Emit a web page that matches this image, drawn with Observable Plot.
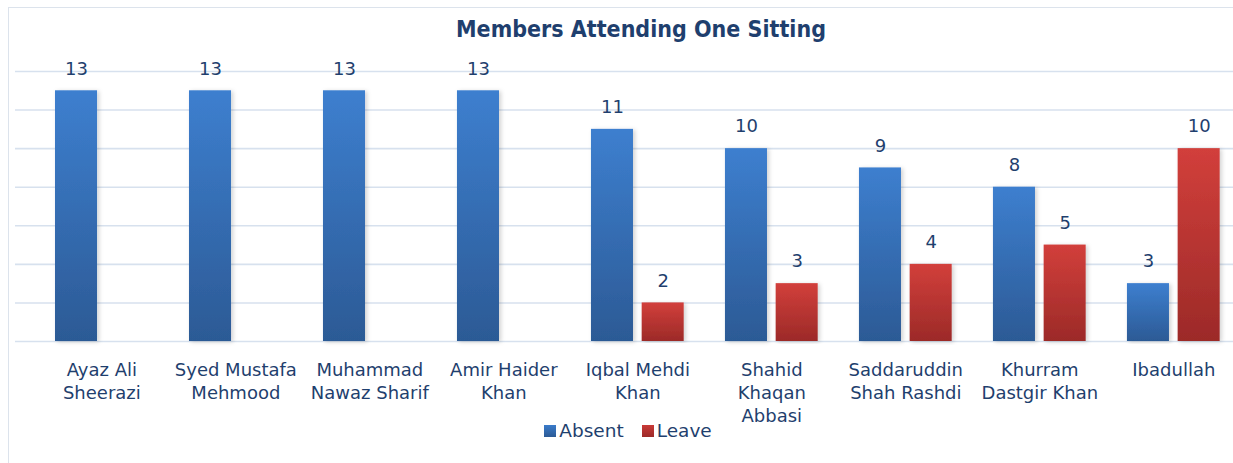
<!DOCTYPE html>
<html>
<head>
<meta charset="utf-8">
<script src="https://cdn.jsdelivr.net/npm/d3@7"></script>
<script src="https://cdn.jsdelivr.net/npm/@observablehq/plot@0.6"></script>
<style>
  html, body { margin: 0; padding: 0; background: #fff; overflow: hidden; }
  #wrap { position: relative; width: 1233px; height: 463px; }
  #frame { position: absolute; left: 8px; top: 7px; width: 1300px; height: 500px; border: 1.5px solid #dce3ec; box-sizing: border-box; }
  #title { position: absolute; left: 0; width: 1282px; top: 16px; text-align: center;
    font-family: "DejaVu Sans Condensed", "DejaVu Sans", sans-serif; font-weight: bold; font-size: 23px; color: #1f3f6e; }
  #chart { position: absolute; left: 0; top: 0; }
  #legend { position: absolute; left: 0; width: 1256px; top: 420px; text-align: center;
    font-family: "DejaVu Sans", sans-serif; font-size: 18.5px; color: #1f3f6e; white-space: nowrap; }
  #legend span.sw { display: inline-block; width: 12px; height: 12px; margin-right: 3px; vertical-align: 0px; }
  #legend span.item { margin: 0 9px; }
</style>
</head>
<body>
<div id="wrap">
  <div id="frame"></div>
  <div id="chart"></div>
  <div id="title">Members Attending One Sitting</div>
  <div id="legend"></div>
</div>
<script>
const members = [
  "Ayaz Ali Sheerazi",
  "Syed Mustafa Mehmood",
  "Muhammad Nawaz Sharif",
  "Amir Haider Khan",
  "Iqbal Mehdi Khan",
  "Shahid Khaqan Abbasi",
  "Saddaruddin Shah Rashdi",
  "Khurram Dastgir Khan",
  "Ibadullah"
];
// tick label lines as wrapped in the reference
const labelLines = [
  ["Ayaz Ali", "Sheerazi"],
  ["Syed Mustafa", "Mehmood"],
  ["Muhammad", "Nawaz Sharif"],
  ["Amir Haider", "Khan"],
  ["Iqbal Mehdi", "Khan"],
  ["Shahid", "Khaqan", "Abbasi"],
  ["Saddaruddin", "Shah Rashdi"],
  ["Khurram", "Dastgir Khan"],
  ["Ibadullah"]
];
const absent = [13, 13, 13, 13, 11, 10, 9, 8, 3];
const leave = [null, null, null, null, 2, 3, 4, 5, 10];
const seriesNames = ["Absent", "Leave"];
const gridValues = [0, 2, 4, 6, 8, 10, 12, 14];

const absentData = members.map((m, i) => ({member: m, value: absent[i]})).filter(d => d.value != null);
const leaveData = members.map((m, i) => ({member: m, value: leave[i]})).filter(d => d.value != null);
const lineData = members.flatMap((m, i) => labelLines[i].map((t, j) => ({member: m, text: t, line: j})));

const textColor = "#1f3f6e";
const inset = 50.7;
const shift = 25.35;
const font = "DejaVu Sans, sans-serif";

const defs = () => {
  const d = d3.create("svg:defs");
  const g1 = d.append("linearGradient").attr("id", "gBlue").attr("x1", 0).attr("y1", 0).attr("x2", 0).attr("y2", 1);
  g1.append("stop").attr("offset", "0%").attr("stop-color", "#3d7fcf");
  g1.append("stop").attr("offset", "100%").attr("stop-color", "#2c5a95");
  const g2 = d.append("linearGradient").attr("id", "gRed").attr("x1", 0).attr("y1", 0).attr("x2", 0).attr("y2", 1);
  g2.append("stop").attr("offset", "0%").attr("stop-color", "#d23f3b");
  g2.append("stop").attr("offset", "100%").attr("stop-color", "#9c2a28");
  const f = d.append("filter").attr("id", "shadow").attr("x", "-20%").attr("y", "-5%").attr("width", "140%").attr("height", "110%");
  f.append("feDropShadow").attr("dx", 2).attr("dy", 1).attr("stdDeviation", 2).attr("flood-color", "#000").attr("flood-opacity", 0.18);
  return d.node();
};

const lineMark = (j) => Plot.text(lineData.filter(d => d.line === j), {
  x: "member", y: 0, text: "text", dy: 29 + 23 * j,
  fill: textColor, fontSize: 18, fontFamily: font
});

const chart = Plot.plot({
  width: 1233,
  height: 463,
  marginLeft: 15,
  marginRight: 0,
  marginTop: 71,
  marginBottom: 122,
  style: {background: "transparent", overflow: "visible"},
  x: {domain: members, paddingInner: 0.308, paddingOuter: 0.199, align: 0.75, round: false, axis: null},
  y: {domain: [0, 14], axis: null},
  marks: [
    defs,
    Plot.ruleY(gridValues, {stroke: "#d7e1ee", strokeWidth: 1.6}),
    Plot.barY(absentData, {x: "member", y: "value", fill: "url(#gBlue)", insetRight: inset}),
    Plot.barY(leaveData, {x: "member", y: "value", fill: "url(#gRed)", insetLeft: inset}),
    Plot.text(absentData, {x: "member", y: "value", text: d => String(d.value), dx: -shift, dy: -22,
      fill: textColor, fontSize: 18, fontFamily: font}),
    Plot.text(leaveData, {x: "member", y: "value", text: d => String(d.value), dx: shift, dy: -22,
      fill: textColor, fontSize: 18, fontFamily: font}),
    lineMark(0),
    lineMark(1),
    lineMark(2)
  ]
});
d3.select(chart).selectAll("rect").attr("filter", "url(#shadow)");
document.getElementById("chart").appendChild(chart);

const legend = document.getElementById("legend");
const colors = ["#3a7bca", "#c93a37"];
seriesNames.forEach((s, i) => {
  const item = document.createElement("span");
  item.className = "item";
  const sw = document.createElement("span");
  sw.className = "sw";
  sw.style.background = `linear-gradient(${colors[i]}, ${i ? "#9c2a28" : "#2c5a95"})`;
  item.appendChild(sw);
  item.appendChild(document.createTextNode(s));
  legend.appendChild(item);
});
</script>
</body>
</html>
